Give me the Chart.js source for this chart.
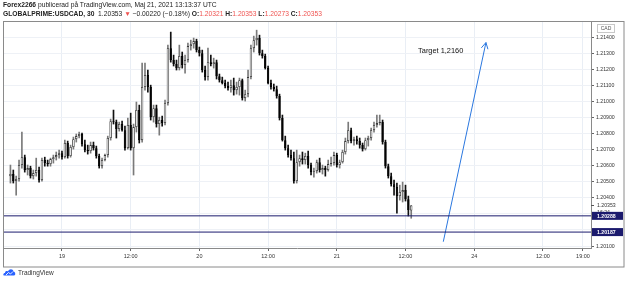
<!DOCTYPE html>
<html>
<head>
<meta charset="utf-8">
<script src="https://cdn.jsdelivr.net/npm/chart.js@4.4.1/dist/chart.umd.min.js"></script>
<style>
  body { margin: 0; background: #fff; width: 625px; height: 283px; overflow: hidden; position: relative; font-family: "Liberation Sans", Arial, sans-serif; }
  #head { position: absolute; left: 3px; top: 0px; font-size: 6.7px; line-height: 9px; color: #222; white-space: nowrap; z-index: 2; }
  #head .red { color: #ef5350; }
  #chart { position: absolute; left: 0; top: 0; }
  #logo { position: absolute; left: 3px; top: 268px; font-size: 6.5px; color: #333; display: flex; align-items: center; gap: 2px; }
</style>
</head>
<body>
<div id="head">
  <div><b>Forex2266</b> publicerad på TradingView.com, Maj 21, 2021 13:13:37 UTC</div>
  <div><b>GLOBALPRIME:USDCAD, 30</b>&nbsp; 1.20353 <span class="red">▼</span> −0.00220 (−0.18%) <b>O:</b><span class="red">1.20321</span> <b>H:</b><span class="red">1.20353</span> <b>L:</b><span class="red">1.20273</span> <b>C:</b><span class="red">1.20353</span></div>
</div>
<canvas id="chart" width="625" height="283"></canvas>
<div id="logo">
  <svg width="13" height="8" viewBox="0 0 13 8"><path d="M1 7.5 C0 7.5 0 5 2 5 C2 3 4 2.5 5 3.5 C6 0.5 10 0.5 10.5 3.5 C12.5 3.5 13 7.5 11 7.5 Z" fill="#2962ff"/><path d="M3 7 L5.5 4.5 L7.5 6 L10 3.5" stroke="#fff" stroke-width="0.9" fill="none"/></svg>
  <span>TradingView</span>
</div>
<script>
// 30-minute bars, bar 0 of the axis = 19 May 00:00, first bar at -18
const firstBar = -18;
const opens = [1.20535,1.20548,1.20504,1.20517,1.20604,1.20653,1.20573,1.20585,1.20535,1.20554,
  1.20573,1.20510,1.20635,1.20616,1.20610,1.20641,1.20653,1.20666,1.20678,1.20653,
  1.20741,1.20660,1.20716,1.20765,1.20784,1.20797,1.20734,1.20697,1.20691,1.20728,
  1.20709,1.20660,1.20597,1.20635,1.20666,1.20772,1.20877,1.20871,1.20828,1.20859,
  1.20821,1.20709,1.20853,1.20709,1.20840,1.20946,1.20759,1.21089,1.21164,1.21089,
  1.20902,1.20958,1.20859,1.20884,1.20865,1.20989,1.21331,1.21257,1.21232,1.21207,
  1.21282,1.21226,1.21257,1.21344,1.21356,1.21375,1.21319,1.21300,1.21195,1.21151,
  1.21244,1.21232,1.21244,1.21157,1.21132,1.21114,1.21095,1.21083,1.21101,1.21070,
  1.21089,1.21132,1.21020,1.21045,1.21151,1.21331,1.21381,1.21394,1.21300,1.21282,
  1.21207,1.21114,1.21089,1.21076,1.21033,1.20896,1.20759,1.20709,1.20666,1.20647,
  1.20504,1.20622,1.20647,1.20635,1.20660,1.20604,1.20560,1.20566,1.20622,1.20573,
  1.20585,1.20573,1.20610,1.20616,1.20666,1.20604,1.20622,1.20685,1.20753,1.20821,
  1.20753,1.20765,1.20753,1.20728,1.20703,1.20759,1.20772,1.20821,1.20853,1.20865,
  1.20871,1.20747,1.20597,1.20535,1.20485,1.20467,1.20411,1.20436,1.20448,1.20392,
  1.20321];
const highs = [1.20604,1.20573,1.20535,1.20635,1.20809,1.20666,1.20604,1.20597,1.20573,1.20647,
  1.20591,1.20647,1.20653,1.20635,1.20647,1.20666,1.20685,1.20697,1.20691,1.20759,
  1.20753,1.20728,1.20778,1.20797,1.20809,1.20803,1.20759,1.20728,1.20747,1.20747,
  1.20722,1.20672,1.20647,1.20672,1.20784,1.20890,1.20946,1.20884,1.20871,1.20877,
  1.20846,1.20896,1.20927,1.20859,1.20996,1.20977,1.21238,1.21238,1.21195,1.21101,
  1.20977,1.20977,1.20902,1.20908,1.21008,1.21350,1.21431,1.21288,1.21257,1.21350,
  1.21307,1.21288,1.21363,1.21381,1.21394,1.21387,1.21338,1.21319,1.21220,1.21331,
  1.21288,1.21269,1.21257,1.21170,1.21151,1.21132,1.21120,1.21132,1.21145,1.21120,
  1.21145,1.21139,1.21070,1.21195,1.21350,1.21406,1.21443,1.21412,1.21319,1.21294,
  1.21220,1.21132,1.21108,1.21095,1.21045,1.20915,1.20784,1.20728,1.20697,1.20685,
  1.20697,1.20666,1.20685,1.20678,1.20691,1.20616,1.20585,1.20635,1.20647,1.20604,
  1.20597,1.20635,1.20653,1.20685,1.20678,1.20635,1.20697,1.20772,1.20871,1.20834,
  1.20778,1.20784,1.20772,1.20741,1.20772,1.20784,1.20834,1.20871,1.20915,1.20915,
  1.20884,1.20759,1.20610,1.20554,1.20510,1.20492,1.20479,1.20498,1.20479,1.20411,
  1.20353];
const lows = [1.20492,1.20492,1.20417,1.20504,1.20585,1.20560,1.20542,1.20523,1.20517,1.20535,
  1.20498,1.20504,1.20597,1.20597,1.20597,1.20616,1.20635,1.20647,1.20641,1.20647,
  1.20647,1.20653,1.20703,1.20747,1.20772,1.20722,1.20685,1.20672,1.20678,1.20697,
  1.20647,1.20585,1.20585,1.20629,1.20653,1.20759,1.20859,1.20772,1.20815,1.20815,
  1.20697,1.20703,1.20697,1.20542,1.20809,1.20741,1.20747,1.21070,1.21058,1.20884,
  1.20871,1.20840,1.20790,1.20846,1.20853,1.20977,1.21244,1.21220,1.21195,1.21195,
  1.21207,1.21176,1.21244,1.21319,1.21331,1.21307,1.21282,1.21182,1.21132,1.21132,
  1.21220,1.21207,1.21139,1.21120,1.21108,1.21083,1.21070,1.21058,1.21039,1.21045,
  1.21039,1.21008,1.21002,1.21027,1.21139,1.21307,1.21350,1.21288,1.21269,1.21201,
  1.21108,1.21076,1.21064,1.21020,1.20884,1.20753,1.20697,1.20653,1.20635,1.20492,
  1.20492,1.20597,1.20610,1.20610,1.20585,1.20542,1.20529,1.20554,1.20560,1.20548,
  1.20535,1.20566,1.20597,1.20604,1.20591,1.20585,1.20616,1.20672,1.20741,1.20741,
  1.20728,1.20734,1.20709,1.20691,1.20697,1.20722,1.20759,1.20809,1.20840,1.20853,
  1.20734,1.20585,1.20523,1.20473,1.20417,1.20305,1.20386,1.20374,1.20380,1.20287,
  1.20273];
const closes = [1.20548,1.20504,1.20517,1.20604,1.20653,1.20573,1.20585,1.20535,1.20554,1.20573,
  1.20510,1.20635,1.20616,1.20610,1.20641,1.20653,1.20666,1.20678,1.20653,1.20741,
  1.20660,1.20716,1.20765,1.20784,1.20797,1.20734,1.20697,1.20691,1.20728,1.20709,
  1.20660,1.20597,1.20635,1.20666,1.20772,1.20877,1.20871,1.20828,1.20859,1.20821,
  1.20709,1.20853,1.20709,1.20840,1.20946,1.20759,1.21089,1.21164,1.21089,1.20902,
  1.20958,1.20859,1.20884,1.20865,1.20989,1.21331,1.21257,1.21232,1.21207,1.21282,
  1.21226,1.21257,1.21344,1.21356,1.21375,1.21319,1.21300,1.21195,1.21151,1.21244,
  1.21232,1.21244,1.21157,1.21132,1.21114,1.21095,1.21083,1.21101,1.21070,1.21089,
  1.21132,1.21020,1.21045,1.21151,1.21331,1.21381,1.21394,1.21300,1.21282,1.21207,
  1.21114,1.21089,1.21076,1.21033,1.20896,1.20759,1.20709,1.20666,1.20647,1.20504,
  1.20622,1.20647,1.20635,1.20660,1.20604,1.20560,1.20566,1.20622,1.20573,1.20585,
  1.20573,1.20610,1.20616,1.20666,1.20604,1.20622,1.20685,1.20753,1.20821,1.20753,
  1.20765,1.20753,1.20728,1.20703,1.20759,1.20772,1.20821,1.20853,1.20865,1.20871,
  1.20747,1.20597,1.20535,1.20485,1.20467,1.20411,1.20436,1.20448,1.20392,1.20324,
  1.20353];

const yTicks = [1.201,1.202,1.203,1.204,1.205,1.206,1.207,1.208,1.209,1.210,1.211,1.212,1.213,1.214];
const hiddenYTicks = [1.202, 1.203];
const xTickValues = [0, 24, 48, 72, 96, 120, 144, 168, 182];
const xTickLabels = ['19', '12:00', '20', '12:00', '21', '12:00', '24', '12:00', '19:00'];

const levels = [1.20288, 1.20187];
const lastPrice = 1.20353;
const countdown = '16:24';
const arrowPts = [{ x: 133.2, y: 1.20127 }, { x: 148.1, y: 1.21366 }];
const note = { x: 124.4, y: 1.21316, text: 'Target 1,2160' };

const xMin = -20.6, xMax = 184.8, yMin = 1.20088, yMax = 1.21500;
const navy = '#1b1a6d';
const arrowBlue = '#2a77df';

const bodies = opens.map((o, i) => ({ x: firstBar + i, y: [o, closes[i]] }));
const wicks = lows.map((l, i) => ({ x: firstBar + i, y: [l, highs[i]] }));
const isUp = opens.map((o, i) => closes[i] >= o);

const overlay = {
  id: 'overlay',
  afterDraw(chart) {
    const ctx = chart.ctx;
    const xs = chart.scales.x, ys = chart.scales.y;
    ctx.save();
    // outer frame
    ctx.strokeStyle = '#8a8a8a';
    ctx.lineWidth = 1;
    ctx.strokeRect(3.5, 21.5, 620.5, 245.5);

    // arrow head
    const meta = chart.getDatasetMeta(4);
    const p0 = meta.data[0], p1 = meta.data[1];
    const ang = Math.atan2(p1.y - p0.y, p1.x - p0.x);
    ctx.strokeStyle = arrowBlue;
    ctx.lineWidth = 1;
    ctx.beginPath();
    [-0.5, 0.5].forEach(d => {
      ctx.moveTo(p1.x, p1.y);
      ctx.lineTo(p1.x - 7 * Math.cos(ang + d), p1.y - 7 * Math.sin(ang + d));
    });
    ctx.stroke();

    // target note
    ctx.fillStyle = '#111';
    ctx.font = '7.4px "Liberation Sans", Arial, sans-serif';
    ctx.textBaseline = 'middle';
    ctx.textAlign = 'left';
    ctx.fillText(note.text, xs.getPixelForValue(note.x), ys.getPixelForValue(note.y));

    // currency box
    ctx.strokeStyle = '#c8c8c8';
    ctx.strokeRect(597.5, 24.5, 17, 8);
    ctx.fillStyle = '#555';
    ctx.font = '5px "Liberation Sans", Arial, sans-serif';
    ctx.textAlign = 'center';
    ctx.fillText('CAD', 606, 28.8);

    // last price + countdown
    const ly = ys.getPixelForValue(lastPrice);
    ctx.textAlign = 'left';
    ctx.fillStyle = '#333';
    ctx.font = '5.2px "Liberation Sans", Arial, sans-serif';
    ctx.fillText(lastPrice.toFixed(5), 597, ly);
    ctx.fillText(countdown, 597, ly + 7);
    ctx.strokeStyle = '#555';
    ctx.beginPath();
    ctx.moveTo(591, Math.round(ly) + 0.5);
    ctx.lineTo(594, Math.round(ly) + 0.5);
    ctx.stroke();

    // level boxes
    levels.forEach(v => {
      const y = ys.getPixelForValue(v);
      ctx.fillStyle = navy;
      ctx.fillRect(592, y - 4, 31, 8);
      ctx.fillStyle = '#fff';
      ctx.font = 'bold 5.2px "Liberation Sans", Arial, sans-serif';
      ctx.fillText(v.toFixed(5), 597, y + 0.3);
    });
    ctx.restore();
  }
};

new Chart(document.getElementById('chart'), {
  data: {
    datasets: [
      {
        type: 'bar', data: bodies, grouped: false, order: 1,
        backgroundColor: isUp.map(u => u ? '#ffffff' : '#000000'),
        borderColor: isUp.map(u => u ? '#3a3a3a' : '#000000'),
        borderWidth: 0.8, borderSkipped: false,
        barPercentage: 0.85, categoryPercentage: 1
      },
      {
        type: 'bar', data: wicks, grouped: false, order: 2,
        backgroundColor: isUp.map(u => u ? '#7a7a7a' : '#111111'),
        barThickness: 1
      },
      {
        type: 'line', order: 0,
        data: [{ x: xMin, y: levels[0] }, { x: xMax, y: levels[0] }],
        borderColor: navy, borderWidth: 1, pointRadius: 0
      },
      {
        type: 'line', order: 0,
        data: [{ x: xMin, y: levels[1] }, { x: xMax, y: levels[1] }],
        borderColor: navy, borderWidth: 1, pointRadius: 0
      },
      {
        type: 'line', order: 0, data: arrowPts,
        borderColor: arrowBlue, borderWidth: 1, pointRadius: 0
      }
    ]
  },
  options: {
    responsive: false,
    animation: false,
    layout: { padding: { left: 3, top: 21, right: 1, bottom: 16 } },
    plugins: { legend: { display: false }, tooltip: { enabled: false } },
    scales: {
      x: {
        type: 'linear', min: xMin, max: xMax, offset: false,
        afterBuildTicks: s => { s.ticks = xTickValues.map(v => ({ value: v })); },
        afterFit: s => { s.height = 19; },
        ticks: {
          autoSkip: false, maxRotation: 0, padding: 2, color: '#333',
          font: { size: 5.5, family: '"Liberation Sans", Arial, sans-serif' },
          callback: v => xTickLabels[xTickValues.indexOf(v)]
        },
        grid: { offset: false, color: '#e9eef5', tickColor: '#666', tickLength: 3 },
        border: { color: '#8a8a8a' }
      },
      y: {
        position: 'right', min: yMin, max: yMax,
        afterBuildTicks: s => { s.ticks = yTicks.map(v => ({ value: v })); },
        afterFit: s => { s.width = 33; },
        ticks: {
          padding: 2, color: '#333',
          font: { size: 5.2, family: '"Liberation Sans", Arial, sans-serif' },
          callback: v => hiddenYTicks.some(h => Math.abs(h - v) < 1e-7) ? '' : v.toFixed(5)
        },
        grid: { color: '#eef1f6', tickColor: '#666', tickLength: 3 },
        border: { color: '#8a8a8a' }
      }
    }
  },
  plugins: [overlay]
});
</script>
</body>
</html>
